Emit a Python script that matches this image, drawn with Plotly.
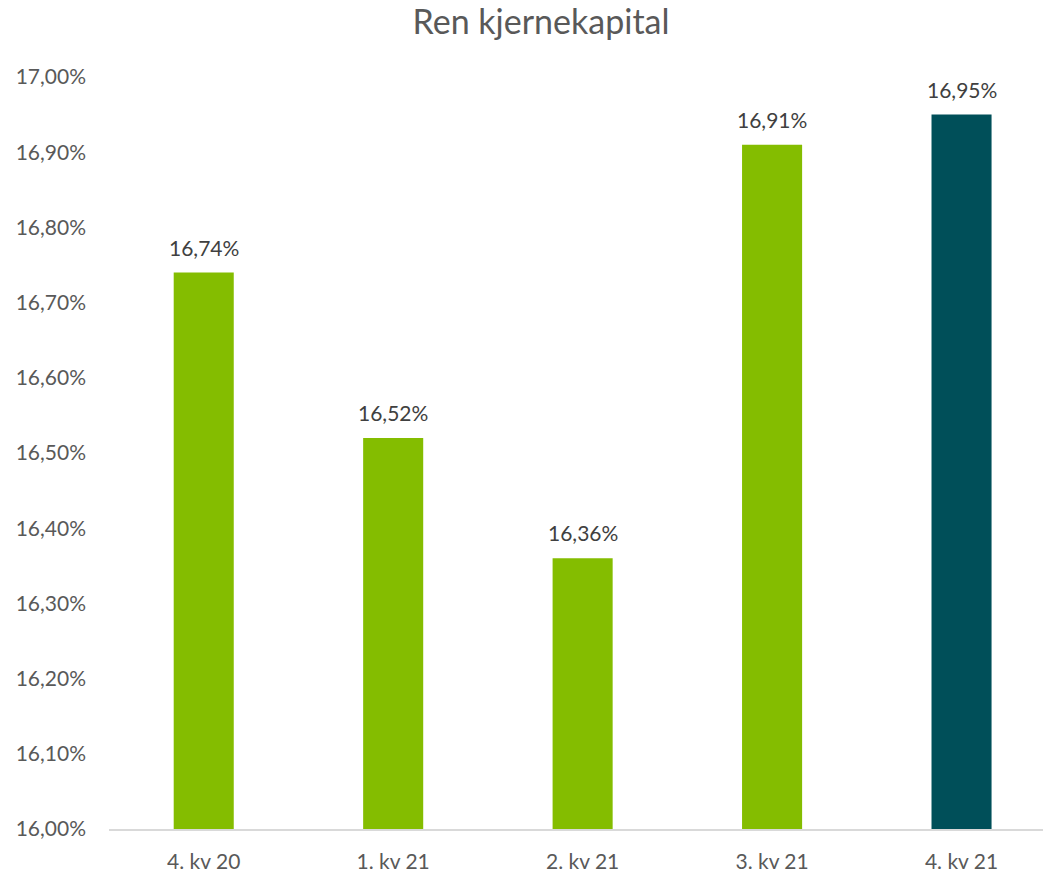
import plotly.graph_objects as go

categories = ["4. kv 20", "1. kv 21", "2. kv 21", "3. kv 21", "4. kv 21"]
values = [16.74, 16.52, 16.36, 16.91, 16.95]
bar_colors = ["#84BD00", "#84BD00", "#84BD00", "#84BD00", "#004F59"]
y_ticks = [16.0, 16.1, 16.2, 16.3, 16.4, 16.5, 16.6, 16.7, 16.8, 16.9, 17.0]

FONT = "Lato"
GREY = "#595959"


def pct(v):
    return f"{v:.2f}".replace(".", ",") + "%"


fig = go.Figure(
    go.Bar(
        x=categories,
        y=values,
        marker=dict(color=bar_colors, line=dict(width=0)),
        width=0.317,
        hoverinfo="skip",
    )
)

for c, v in zip(categories, values):
    fig.add_annotation(
        x=c, y=v, text=pct(v), showarrow=False,
        yanchor="bottom", yshift=11,
        font=dict(family=FONT, size=21, color="#404040"),
    )

fig.update_layout(
    width=1043, height=872,
    margin=dict(l=0, r=0, t=77, b=43),
    paper_bgcolor="white", plot_bgcolor="white",
    showlegend=False,
    title=dict(
        text="Ren kjernekapital", x=541 / 1043, xanchor="center",
        y=1 - 22 / 872, yanchor="middle",
        font=dict(family=FONT, size=34, color=GREY),
    ),
    xaxis=dict(
        domain=[109 / 1043, 1],
        range=[-0.5, 4.43],
        showgrid=False, zeroline=False,
        showline=True, linecolor="#D9D9D9", linewidth=1.5,
        ticks="", ticklabelstandoff=13,
        tickfont=dict(family=FONT, size=21, color=GREY),
    ),
    yaxis=dict(
        range=[16.0, 17.0],
        tickvals=y_ticks,
        ticktext=[pct(t) for t in y_ticks],
        showgrid=False, zeroline=False, showline=False,
        ticks="", ticklabelstandoff=22,
        tickfont=dict(family=FONT, size=21, color=GREY),
    ),
)

fig.write_html("out.html")
